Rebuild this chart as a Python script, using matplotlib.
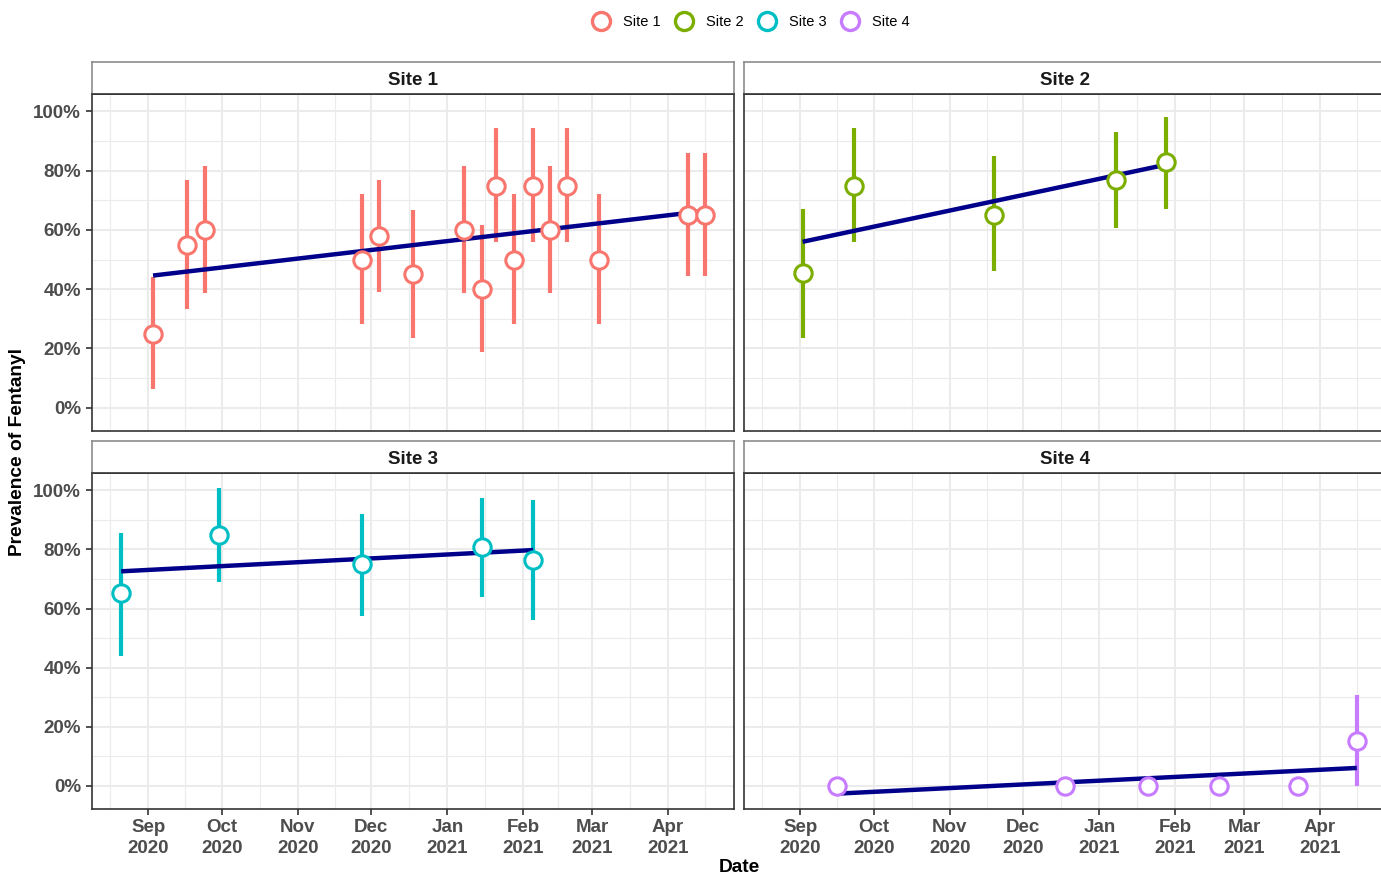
import matplotlib
matplotlib.use('Agg')
import matplotlib.pyplot as plt
import matplotlib.dates as mdates
import numpy as np
from matplotlib.lines import Line2D

plt.rcParams['font.family'] = ['Liberation Sans', 'DejaVu Sans']

sites = ['Site 1', 'Site 2', 'Site 3', 'Site 4']
colors = ['#F8766D', '#7CAE00', '#00BFC4', '#C77CFF']

# Site 1
s1_dates = ['2020-09-03', '2020-09-17', '2020-09-24', '2020-11-27', '2020-12-04', '2020-12-18',
            '2021-01-08', '2021-01-15', '2021-01-21', '2021-01-28', '2021-02-05', '2021-02-12',
            '2021-02-19', '2021-03-04', '2021-04-09', '2021-04-16']
s1_prev = [25, 55, 60, 50, 57.9, 45, 60, 40, 75, 50, 75, 60, 75, 50, 65, 65]
s1_lo = [6.4, 33.4, 38.6, 28.4, 38.9, 23.4, 38.6, 18.8, 56, 28.4, 56, 38.6, 56, 28.4, 44.3, 44.3]
s1_hi = [44, 76.7, 81.6, 72, 76.7, 66.6, 81.6, 61.5, 94.3, 72, 94.3, 81.6, 94.3, 72, 86, 86]
s1_fit_dates = ['2020-09-03', '2021-04-16']
s1_fit = [44.6, 66.4]

# Site 2
s2_dates = ['2020-09-02', '2020-09-23', '2020-11-19', '2021-01-08', '2021-01-28']
s2_prev = [45.3, 75, 65.2, 77, 82.8]
s2_lo = [23.6, 56, 46, 60.8, 67.2]
s2_hi = [66.9, 94.3, 84.8, 92.9, 98.3]
s2_fit_dates = ['2020-09-02', '2021-01-28']
s2_fit = [56, 82]

# Site 3
s3_dates = ['2020-08-21', '2020-09-30', '2020-11-27', '2021-01-15', '2021-02-05']
s3_prev = [65.2, 85, 75, 80.7, 76.4]
s3_lo = [44, 69, 57.4, 64, 56]
s3_hi = [85.5, 100.7, 92, 97.6, 96.6]
s3_fit_dates = ['2020-08-21', '2021-02-05']
s3_fit = [72.6, 79.8]

# Site 4
s4_dates = ['2020-09-16', '2020-12-18', '2021-01-21', '2021-02-19', '2021-03-23', '2021-04-16']
s4_prev = [0, 0, 0, 0, 0, 15.2]
s4_lo = [0, 0, 0, 0, 0, 0]
s4_hi = [0, 0, 0, 0, 0, 30.7]
s4_fit_dates = ['2020-09-16', '2021-04-16']
s4_fit = [-2.7, 6.0]

y_ticks = [0, 20, 40, 60, 80, 100]
month_starts = ['2020-08-01', '2020-09-01', '2020-10-01', '2020-11-01', '2020-12-01', '2021-01-01',
                '2021-02-01', '2021-03-01', '2021-04-01', '2021-05-01']

data = [
    (s1_dates, s1_prev, s1_lo, s1_hi, s1_fit_dates, s1_fit),
    (s2_dates, s2_prev, s2_lo, s2_hi, s2_fit_dates, s2_fit),
    (s3_dates, s3_prev, s3_lo, s3_hi, s3_fit_dates, s3_fit),
    (s4_dates, s4_prev, s4_lo, s4_hi, s4_fit_dates, s4_fit),
]

W, H = 1381, 875
fig = plt.figure(figsize=(W / 100, H / 100), dpi=100)

def to_num(ds):
    return mdates.datestr2num(ds)

ms = to_num(month_starts)
major_x = ms[1:-1]
minor_x = (ms[:-1] + ms[1:]) / 2

xlo = to_num(['2020-08-21'])[0] - 11.9
xhi = to_num(['2021-04-16'])[0] + 11.9

# panel boxes in pixels: (left, top, right, bottom)
panels = [(92, 94, 734, 431), (744, 94, 1386, 431), (92, 473, 734, 809), (744, 473, 1386, 809)]
strips = [(92, 62, 734, 94), (744, 62, 1386, 94), (92, 441, 734, 473), (744, 441, 1386, 473)]

def rect(b):
    l, t, r, btm = b
    return [l / W, 1 - btm / H, (r - l) / W, (btm - t) / H]

grid_col = '#EBEBEB'
for i, (dates, prev, lo, hi, fd, fv) in enumerate(data):
    ax = fig.add_axes(rect(panels[i]))
    x = to_num(dates)
    ax.vlines(x, lo, hi, color=colors[i], lw=3.0, zorder=3, capstyle='butt')
    ax.plot(to_num(fd), fv, color='#00008B', lw=3.2, zorder=4, solid_capstyle='butt')
    ax.plot(x, prev, 'o', ms=12.5, mfc='white', mec=colors[i], mew=2.2, zorder=5)

    ax.set_xlim(xlo, xhi)
    ax.set_ylim(-7.9, 105.9)
    ax.set_xticks(major_x)
    ax.set_xticks(minor_x, minor=True)
    ax.set_yticks(y_ticks)
    ax.set_yticks([10, 30, 50, 70, 90], minor=True)
    ax.grid(True, which='major', color=grid_col, lw=1.5, zorder=0)
    ax.grid(True, which='minor', color=grid_col, lw=0.8, zorder=0)
    ax.set_axisbelow(True)
    for sp in ax.spines.values():
        sp.set_color('#333333')
        sp.set_linewidth(1.2)

    ax.tick_params(which='minor', length=0)
    if i in (0, 2):
        ax.set_yticklabels([f'{v}%' for v in y_ticks], fontsize=13.5, fontweight='bold', color='#4D4D4D')
        ax.tick_params(axis='y', which='major', length=4, width=1.2, color='#333333', pad=4)
    else:
        ax.tick_params(axis='y', which='major', length=0, labelleft=False)
    if i in (2, 3):
        ax.xaxis.set_major_formatter(mdates.DateFormatter('%b\n%Y'))
        ax.tick_params(axis='x', which='major', length=4, width=1.2, color='#333333', pad=3,
                       labelsize=13.5, labelcolor='#4D4D4D')
        for lab in ax.get_xticklabels():
            lab.set_fontweight('bold')
            lab.set_linespacing(1.3)
    else:
        ax.tick_params(axis='x', which='major', length=0, labelbottom=False)

    sax = fig.add_axes(rect(strips[i]))
    sax.set_xticks([])
    sax.set_yticks([])
    sax.set_facecolor('white')
    for sp in sax.spines.values():
        sp.set_color('#8C8C8C')
        sp.set_linewidth(1.2)
    sax.spines['bottom'].set_color('#333333')
    sax.text(0.5, 0.42, sites[i], transform=sax.transAxes, ha='center', va='center',
             fontsize=13.5, fontweight='bold', color='#1A1A1A')

fig.text(18 / W, 1 - 451.5 / H, 'Prevalence of Fentanyl', rotation=90, ha='center', va='center',
         fontsize=13.8, fontweight='bold')
fig.text(739 / W, 1 - 867 / H, 'Date', ha='center', va='center', fontsize=13.8, fontweight='bold')

handles = [Line2D([], [], marker='o', ls='', ms=13, mfc='white', mec=c, mew=2.4) for c in colors]
fig.legend(handles, sites, loc='center', bbox_to_anchor=(751 / W, 1 - 22 / H), ncol=4, frameon=False,
           fontsize=10.5, handletextpad=0.9, columnspacing=1.0, handlelength=1.2)

fig.savefig('out.png', dpi=100)
